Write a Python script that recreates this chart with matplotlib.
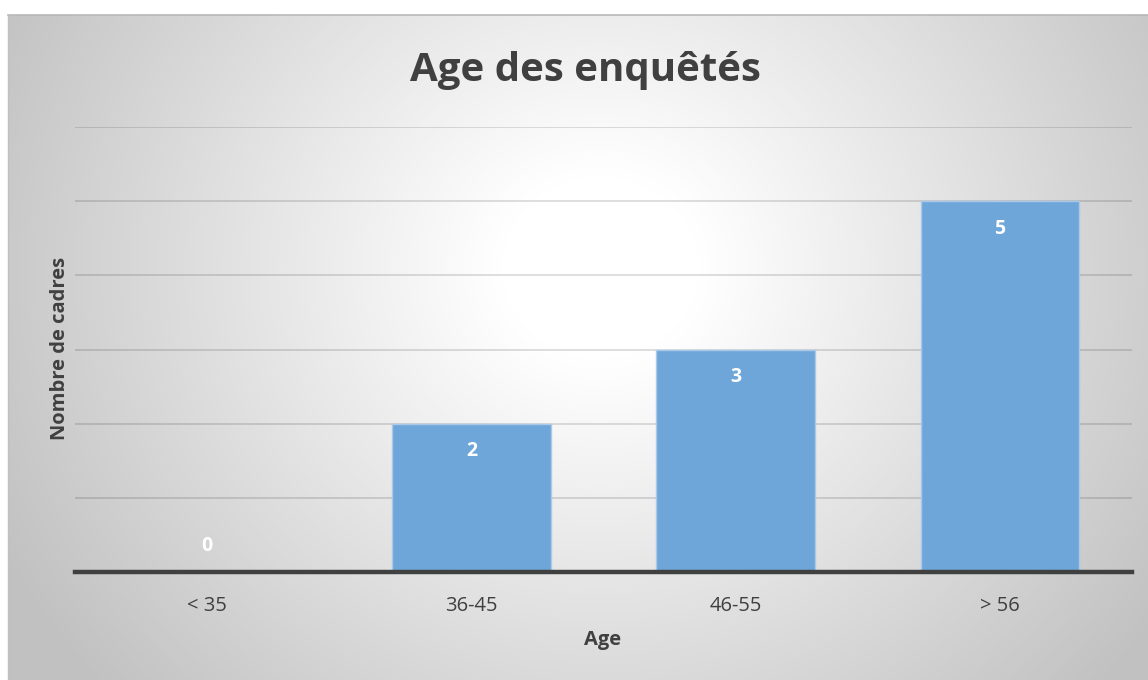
import matplotlib
matplotlib.use('Agg')
import matplotlib.pyplot as plt
import numpy as np

# data
categories = ['< 35', '36-45', '46-55', '> 56']
counts = [0, 2, 3, 5]

plt.rcParams['font.family'] = ['Open Sans', 'DejaVu Sans']

W, H = 1148, 680
fig = plt.figure(figsize=(W / 100, H / 100), dpi=100)
fig.patch.set_facecolor('white')

# chart area box in pixels (left, top, right, bottom)
bx0, by0, bx1, by1 = 8, 15, 1148, 680

# radial gradient background
bg = fig.add_axes([bx0 / W, 1 - by1 / H, (bx1 - bx0) / W, (by1 - by0) / H])
nx, ny = 400, 240
xx, yy = np.meshgrid(np.linspace(0, 1, nx), np.linspace(0, 1, ny))
# center of the light spot, measured from top
cx, cy = 0.52, 0.38
d = np.sqrt(((xx - cx) * 1.6) ** 2 + ((yy - cy) * 1.0) ** 2)
t = np.clip((d - 0.14) / 0.8, 0, 1)
lum = 1.0 - 0.24 * t
img = np.dstack([lum, lum, lum])
bg.imshow(img, aspect='auto', extent=[0, 1, 0, 1], origin='upper')
bg.set_xlim(0, 1)
bg.set_ylim(0, 1)
bg.axis('off')
# thin top / left border
fig.add_artist(plt.Line2D([bx0 / W, 1], [1 - by0 / H, 1 - by0 / H],
                          color='#b8b8b8', lw=1.2, transform=fig.transFigure))
fig.add_artist(plt.Line2D([bx0 / W, bx0 / W], [0, 1 - by0 / H],
                          color='#c0c0c0', lw=1.0, transform=fig.transFigure))

# plot area
px0, px1 = 75, 1132
py_top, py_bot = 127, 572
ax = fig.add_axes([px0 / W, 1 - py_bot / H, (px1 - px0) / W, (py_bot - py_top) / H])
ax.patch.set_alpha(0)

x = np.arange(len(categories))
bars = ax.bar(x, counts, width=0.6, color='#6fa6d9', edgecolor='#a9c9ea',
              linewidth=1.0, zorder=3)

ax.set_xlim(-0.5, len(categories) - 0.5)
ax.set_ylim(0, 6)
ax.set_yticks(np.arange(1, 7))
ax.yaxis.grid(True, color='black', alpha=0.15, lw=1.2, zorder=0)
ax.tick_params(axis='y', left=False, labelleft=False)
ax.tick_params(axis='x', bottom=False, labelsize=14.5, labelcolor='#404040', pad=14)
ax.set_xticks(x)
ax.set_xticklabels(categories)
for s in ['top', 'right', 'left']:
    ax.spines[s].set_visible(False)
ax.spines['bottom'].set_color('#404040')
ax.spines['bottom'].set_linewidth(3.2)
ax.spines['bottom'].set_zorder(4)

# data labels
for xi, v in zip(x, counts):
    if v > 0:
        ax.annotate(str(v), (xi, v), xytext=(0, -20), textcoords='offset points',
                    ha='center', va='center', color='white', fontsize=14,
                    fontweight='bold', zorder=5)
    else:
        ax.annotate(str(v), (xi, 0), xytext=(0, 19), textcoords='offset points',
                    ha='center', va='center', color='white', fontsize=14,
                    fontweight='bold', zorder=5)

fig.text(585 / W, 1 - 70 / H, 'Age des enquêtés', ha='center', va='center',
         fontsize=29, fontweight='bold', color='#404040')
fig.text(603 / W, 1 - 640 / H, 'Age', ha='center', va='center',
         fontsize=14.5, fontweight='bold', color='#404040')
fig.text(60 / W, 1 - 348 / H, 'Nombre de cadres', ha='center', va='center',
         rotation=90, fontsize=14.5, fontweight='bold', color='#404040')

plt.savefig('out.png', dpi=100)
